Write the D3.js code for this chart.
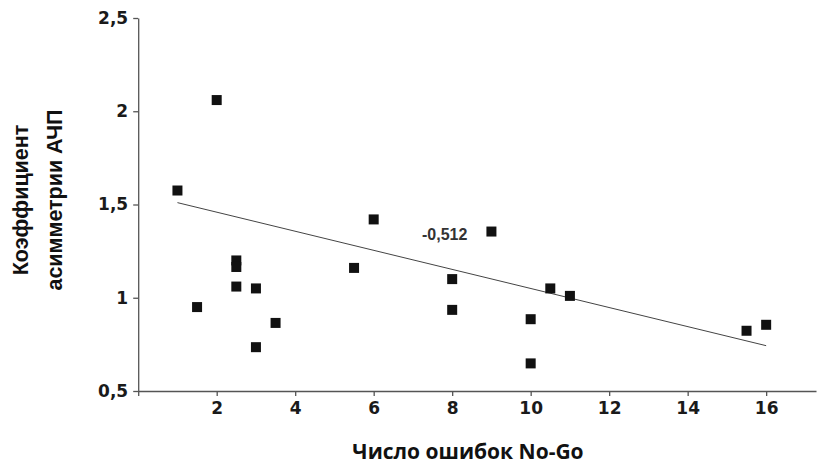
<!DOCTYPE html>
<html>
<head>
<meta charset="utf-8">
<script src="https://cdn.jsdelivr.net/npm/d3@7"></script>
<style>
  body { margin: 0; background: #fff; }
  .tick text { font-family: "DejaVu Sans", Verdana, sans-serif; font-weight: bold; font-size: 17px; fill: #1a1a1a; }
  .domain, .tick line { stroke: #555; stroke-width: 1.3; }
</style>
</head>
<body>
<svg width="818" height="464"></svg>
<script>
// values
var errorsNoGo = [1, 1.5, 2, 2.5, 2.5, 2.5, 3, 3, 3.5, 5.5, 6, 8, 8, 9, 10, 10, 10.5, 11, 15.5, 16];
var asymCoef   = [1.575, 0.95, 2.06, 1.2, 1.165, 1.06, 1.05, 0.735, 0.865, 1.16, 1.42, 1.1, 0.935, 1.355, 0.885, 0.648, 1.05, 1.01, 0.823, 0.855];

// regression line ends (x, y) and correlation label
var fitX = [1, 16];
var fitY = [1.51, 0.743];
var corrLabel = "-0,512";
var corrPos = [7.23, 1.31];

var xTicks = [0, 2, 4, 6, 8, 10, 12, 14, 16];
var yTicks = [0.5, 1, 1.5, 2, 2.5];
var yTickLabels = ["0,5", "1", "1,5", "2", "2,5"];

var svg = d3.select("svg");

var x = d3.scaleLinear().domain([0, 17.27]).range([138.2, 816]);
var y = d3.scaleLinear().domain([0.5, 2.5]).range([391, 18]);

// axes
svg.append("g")
  .attr("transform", "translate(0," + y(0.5) + ")")
  .call(d3.axisBottom(x).tickValues(xTicks).tickSize(5).tickPadding(6).tickSizeOuter(0)
    .tickFormat(function(d) { return d === 0 ? "" : d; }));

svg.append("g")
  .attr("transform", "translate(" + x(0) + ",0)")
  .call(d3.axisLeft(y).tickValues(yTicks).tickSize(5).tickPadding(5).tickSizeOuter(0)
    .tickFormat(function(d, i) { return yTickLabels[i]; }));

// fit line
svg.append("line")
  .attr("x1", x(fitX[0])).attr("y1", y(fitY[0]))
  .attr("x2", x(fitX[1])).attr("y2", y(fitY[1]))
  .attr("stroke", "#444").attr("stroke-width", 1);

// points
var size = 10;
svg.selectAll(".pt")
  .data(errorsNoGo)
  .enter()
  .append("rect")
  .attr("class", "pt")
  .attr("x", function(d) { return x(d) - size / 2; })
  .attr("y", function(d, i) { return y(asymCoef[i]) - size / 2; })
  .attr("width", size).attr("height", size)
  .attr("fill", "#111");

// correlation label
svg.append("text")
  .attr("x", x(corrPos[0])).attr("y", y(corrPos[1]))
  .attr("font-family", "'Liberation Sans', Arial, sans-serif")
  .attr("font-weight", "bold").attr("font-size", 16)
  .attr("fill", "#333")
  .text(corrLabel);

// axis titles
svg.append("text")
  .attr("x", 468).attr("y", 459)
  .attr("text-anchor", "middle")
  .attr("font-family", "'Open Sans', sans-serif")
  .attr("font-weight", "bold").attr("font-size", 21)
  .attr("fill", "#111")
  .text("Число ошибок No-Go");

var yTitle = svg.append("g")
  .attr("transform", "translate(0,200) rotate(-90)")
  .attr("font-family", "'Liberation Sans', Arial, sans-serif")
  .attr("font-weight", "bold").attr("font-size", 21.5)
  .attr("fill", "#111")
  .attr("text-anchor", "middle");
yTitle.append("text").attr("x", 0).attr("y", 28).text("Коэффициент");
yTitle.append("text").attr("x", 0).attr("y", 62).text("асимметрии АЧП");
</script>
</body>
</html>
